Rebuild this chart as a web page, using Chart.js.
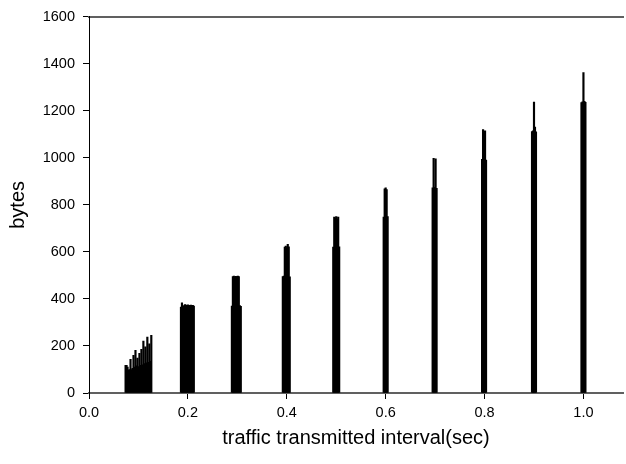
<!DOCTYPE html>
<html>
<head>
<meta charset="utf-8">
<script src="https://cdn.jsdelivr.net/npm/chart.js@4.4.0/dist/chart.umd.min.js"></script>
<style>
  html, body { margin: 0; padding: 0; background: #fff; }
  #c { display: block; }
</style>
</head>
<body>
<canvas id="c" width="626" height="464"></canvas>
<script>
// ---- data ----
const xTickLabels = ["0.0", "0.2", "0.4", "0.6", "0.8", "1.0"];
const yTickLabels = ["0", "200", "400", "600", "800", "1000", "1200", "1400", "1600"];

const c1x = [0.074,0.076,0.078,0.080,0.082,0.084,0.086,0.088,0.090,0.092,0.094,0.096,0.098,0.100,0.102,0.104,0.106,0.108,0.110,0.112,0.114,0.116,0.118,0.120,0.122,0.124,0.126];
const c1y = [118,118,110,97,100,143,100,105,160,110,181,115,148,112,169,118,186,120,221,125,196,128,238,130,209,135,245];

const c2x = [0.186,0.188,0.190,0.192,0.194,0.196,0.198,0.200,0.202,0.204,0.206,0.208,0.210,0.212];
const c2y = [365,383,372,345,376,374,372,375,373,371,374,372,373,370];

const c3x = [0.289,0.291,0.293,0.295,0.297,0.299,0.301,0.303,0.305,0.307];
const c3y = [370,495,497,492,496,494,497,495,372,368];

const c4x = [0.392,0.394,0.396,0.398,0.400,0.402,0.404,0.406];
const c4y = [495,497,620,625,618,632,622,494];

const c5x = [0.494,0.496,0.498,0.500,0.502,0.504,0.506];
const c5y = [620,748,745,750,740,748,622];

const c6x = [0.596,0.598,0.600,0.602,0.604];
const c6y = [748,868,872,865,750];

const c7x = [0.695,0.697,0.699,0.701,0.703];
const c7y = [872,998,875,996,870];

const c8x = [0.795,0.797,0.799,0.801,0.803];
const c8y = [994,1120,996,1115,990];

const c9x = [0.896,0.898,0.900,0.902,0.904];
const c9y = [1112,1115,1237,1131,1110];

const c10x = [0.996,0.998,1.000,1.002,1.004];
const c10y = [1235,1238,1362,1240,1236];

const clustersX = [c1x,c2x,c3x,c4x,c5x,c6x,c7x,c8x,c9x,c10x];
const clustersY = [c1y,c2y,c3y,c4y,c5y,c6y,c7y,c8y,c9y,c10y];

const points = [];
clustersX.forEach((xs, k) => xs.forEach((x, i) => points.push({x: x, y: clustersY[k][i]})));

const FONT = "'Liberation Sans', Arial, sans-serif";

new Chart(document.getElementById('c'), {
  type: 'bar',
  data: {
    datasets: [{
      data: points,
      backgroundColor: '#000',
      borderWidth: 0,
      barThickness: 1.5
    }]
  },
  options: {
    responsive: false,
    animation: false,
    events: [],
    layout: { padding: { left: 0, right: 3, top: 0, bottom: 0 } },
    plugins: { legend: { display: false }, tooltip: { enabled: false } },
    scales: {
      x: {
        type: 'linear',
        position: 'bottom',
        min: 0, max: 1.08,
        offset: false,
        afterFit: s => { s.height = 71; },
        ticks: {
          stepSize: 0.2,
          includeBounds: false,
          padding: 5,
          color: '#000',
          font: { family: FONT, size: 14.5 },
          callback: (v) => { const i = Math.round(v / 0.2); return xTickLabels[i] !== undefined && Math.abs(v - i*0.2) < 1e-6 ? xTickLabels[i] : ''; }
        },
        grid: { display: true, drawOnChartArea: false, drawTicks: true, tickLength: 6, color: '#000', offset: false },
        border: { display: true, color: '#606060', width: 2 },
        title: { display: true, text: 'traffic transmitted interval(sec)', color: '#000', font: { family: FONT, size: 20 }, padding: { top: 0, bottom: 14 } }
      },
      x2: {
        type: 'linear',
        position: 'top',
        min: 0, max: 1.08,
        offset: false,
        afterFit: s => { s.height = 14; },
        ticks: { display: false },
        grid: { display: false },
        border: { display: true, color: '#606060', width: 2 }
      },
      y: {
        type: 'linear',
        position: 'left',
        min: 0, max: 1600,
        afterFit: s => { s.width = 89; },
        ticks: {
          stepSize: 200,
          padding: 8,
          color: '#000',
          font: { family: FONT, size: 14.5 },
          callback: (v) => { const i = Math.round(v / 200); return yTickLabels[i] !== undefined ? yTickLabels[i] : ''; }
        },
        grid: { display: true, drawOnChartArea: false, drawTicks: true, tickLength: 6, color: '#000' },
        border: { display: true, color: '#000', width: 1 },
        title: { display: true, text: 'bytes', color: '#000', font: { family: FONT, size: 20 }, padding: { top: 6, bottom: 0 } }
      }
    }
  }
});
</script>
</body>
</html>
